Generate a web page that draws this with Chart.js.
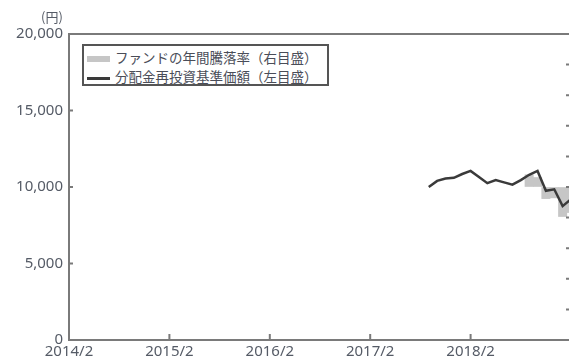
<!DOCTYPE html>
<html lang="ja">
<head>
<meta charset="utf-8">
<script src="https://cdn.jsdelivr.net/npm/chart.js@4.4.1/dist/chart.umd.min.js"></script>
<style>
  html, body { margin: 0; padding: 0; background: #fff; overflow: hidden; }
  #wrap { position: relative; width: 640px; height: 361px; }
  #legend {
    position: absolute; left: 82px; top: 44px; width: 243px; height: 38px;
    border: 2px solid #555; background: #fff;
    font-family: 'Noto Sans CJK JP', sans-serif; font-size: 13.5px; color: #4a4d58;
  }
  .item { position: absolute; left: 3px; height: 16px; line-height: 16px; white-space: nowrap; }
  .sw { display: inline-block; width: 23px; vertical-align: middle; margin-right: 5px; }
</style>
</head>
<body>
<div id="wrap">
  <canvas id="fundChart" width="640" height="361"></canvas>
  <div id="legend"></div>
</div>
<script>
// data
const navMonths = ['2017/9', '2017/10', '2017/11', '2017/12', '2018/1', '2018/2', '2018/3', '2018/4', '2018/5',
  '2018/6', '2018/7', '2018/8', '2018/9', '2018/10', '2018/11', '2018/12', '2019/1', '2019/2'];
const navValues = [10000, 10400, 10550, 10600, 10850, 11050, 10650, 10250, 10450,
  10300, 10150, 10450, 10800, 11050, 9750, 9850, 8750, 9200];

const returnMonths = ['2018/9', '2018/10', '2018/11', '2018/12', '2019/1', '2019/2'];
const returnValues = [8.0, 6.2, -7.6, -7.1, -19.3, -16.7];

const xTickLabels = ['2014/2', '2015/2', '2016/2', '2017/2', '2018/2', ''];

// months counted from 2014/2
function monthIndex(s) {
  const [y, m] = s.split('/').map(Number);
  return (y - 2014) * 12 + (m - 2);
}

const labelColor = '#555b66';
const axisColor = '#7a7a7a';

// ticks drawn inside the plot, top/right frame, unit label
const frameAndTicks = {
  id: 'frameAndTicks',
  afterDraw(chart) {
    const { ctx, chartArea: a, scales } = chart;
    ctx.save();
    ctx.strokeStyle = axisColor;
    ctx.lineWidth = 2;
    ctx.beginPath();
    scales.x.ticks.forEach(t => {
      const px = scales.x.getPixelForValue(t.value);
      ctx.moveTo(px, a.bottom);
      ctx.lineTo(px, a.bottom - 6);
    });
    scales.y.ticks.forEach(t => {
      const py = scales.y.getPixelForValue(t.value);
      ctx.moveTo(a.left, py);
      ctx.lineTo(a.left + 4, py);
    });
    scales.y1.ticks.forEach(t => {
      const py = scales.y1.getPixelForValue(t.value);
      ctx.moveTo(a.right - 5, py);
      ctx.lineTo(a.right, py);
    });
    ctx.moveTo(a.left, a.top);
    ctx.lineTo(a.right, a.top);
    ctx.lineTo(a.right, a.bottom);
    ctx.stroke();

    ctx.fillStyle = labelColor;
    ctx.font = '13px "Noto Sans CJK JP"';
    ctx.textAlign = 'center';
    ctx.textBaseline = 'middle';
    ctx.fillText('(円)', 52, 17);
    ctx.restore();
  }
};

Chart.defaults.font.family = "'Noto Sans', 'Noto Sans CJK JP', sans-serif";
Chart.defaults.color = labelColor;

const ctx = document.getElementById('fundChart').getContext('2d');
const fundChart = new Chart(ctx, {
  type: 'bar',
  data: {
    datasets: [
      {
        type: 'bar',
        label: 'ファンドの年間騰落率（右目盛）',
        data: returnMonths.map((m, i) => ({ x: monthIndex(m), y: returnValues[i] })),
        backgroundColor: '#c6c6c6',
        borderWidth: 0,
        barPercentage: 1,
        categoryPercentage: 1,
        yAxisID: 'y1',
        order: 2
      },
      {
        type: 'line',
        label: '分配金再投資基準価額（左目盛）',
        data: navMonths.map((m, i) => ({ x: monthIndex(m), y: navValues[i] })),
        borderColor: '#3a3a3a',
        backgroundColor: '#3a3a3a',
        borderWidth: 2.5,
        pointRadius: 0,
        tension: 0,
        yAxisID: 'y',
        order: 1
      }
    ]
  },
  options: {
    responsive: false,
    animation: false,
    layout: { padding: { top: 34, left: 0, right: 0, bottom: 0 } },
    plugins: {
      legend: { display: false },
      tooltip: { enabled: false }
    },
    scales: {
      x: {
        type: 'linear',
        min: 0,
        max: 60,
        offset: false,
        grid: { display: true, offset: false, drawOnChartArea: false, drawTicks: false },
        border: { display: true, color: axisColor, width: 2 },
        ticks: {
          stepSize: 12,
          autoSkip: false,
          maxRotation: 0,
          padding: 3,
          font: { size: 15 },
          callback: v => xTickLabels[v / 12] ?? ''
        },
        afterFit: s => { s.height = 21; }
      },
      y: {
        position: 'left',
        min: 0,
        max: 20000,
        grid: { display: true, drawOnChartArea: false, drawTicks: false },
        border: { display: true, color: axisColor, width: 2 },
        ticks: {
          stepSize: 5000,
          padding: 6,
          font: { size: 15 },
          callback: v => v.toLocaleString('en-US')
        },
        afterFit: s => { s.width = 69; }
      },
      y1: {
        position: 'right',
        min: -100,
        max: 100,
        grid: { display: true, drawOnChartArea: false, drawTicks: false },
        border: { display: false },
        ticks: { stepSize: 20, padding: 6, font: { size: 15 } },
        afterFit: s => { s.width = 69; }
      }
    }
  },
  plugins: [frameAndTicks]
});

// legend box built from the datasets
const legendEl = document.getElementById('legend');
fundChart.data.datasets.forEach((ds, i) => {
  const item = document.createElement('div');
  item.className = 'item';
  item.style.top = (i === 0 ? 3 : 22) + 'px';
  const sw = document.createElement('span');
  sw.className = 'sw';
  sw.style.height = ds.type === 'bar' ? '6px' : '3px';
  sw.style.background = ds.type === 'bar' ? ds.backgroundColor : ds.borderColor;
  item.appendChild(sw);
  item.appendChild(document.createTextNode(ds.label));
  legendEl.appendChild(item);
});
</script>
</body>
</html>
